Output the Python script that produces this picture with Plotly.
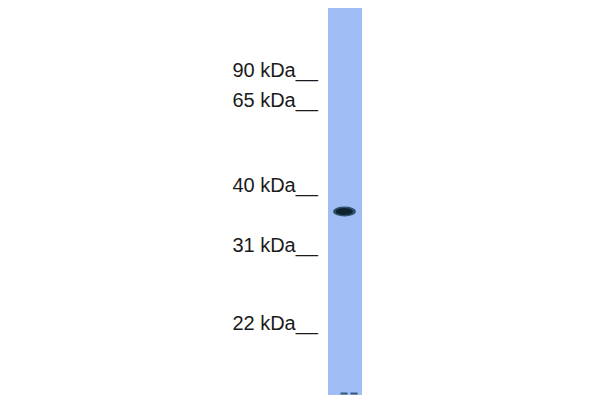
import plotly.graph_objects as go

# marker ladder (label, y position on the blot image)
ladder_labels = ["90 kDa", "65 kDa", "40 kDa", "31 kDa", "22 kDa"]
ladder_y = [72, 102, 187, 247, 325]

# lane geometry (pixel units of the blot)
lane_x = [344.5]
lane_top = [7]
lane_bottom = [395]
lane_width = 34

# detected band
band_x = [344.5]
band_y = [211.5]
band_w = [23]
band_h = [10]

# small specks at the lane foot
speck_x = [344, 354]
speck_y = [393.5, 393.5]

# page body adds an 8px offset, compensate in the axis ranges
OFF = 8

fig = go.Figure()

# lane
fig.add_trace(go.Bar(
    x=lane_x,
    y=[lane_bottom[0] - lane_top[0]],
    base=lane_top,
    width=lane_width,
    marker=dict(color="#a1bdf5", line=dict(width=0)),
    hoverinfo="skip",
    showlegend=False,
))

# ladder labels with tick underscores
fig.add_trace(go.Scatter(
    x=[318] * len(ladder_labels),
    y=ladder_y,
    mode="text",
    text=[lab + "__" for lab in ladder_labels],
    textposition="middle left",
    textfont=dict(family="Liberation Sans, Arial, sans-serif", size=20, color="#1a1a1a"),
    hoverinfo="skip",
    showlegend=False,
))

# band as ellipses (outer halo + dark core)
for bx, by, bw, bh in zip(band_x, band_y, band_w, band_h):
    fig.add_shape(type="circle", xref="x", yref="y",
                  x0=bx - bw / 2, x1=bx + bw / 2, y0=by - bh / 2, y1=by + bh / 2,
                  fillcolor="#24465e", line=dict(width=0), opacity=0.9)
    fig.add_shape(type="circle", xref="x", yref="y",
                  x0=bx - bw / 2 + 2.5, x1=bx + bw / 2 - 3, y0=by - bh / 2 + 1.5, y1=by + bh / 2 - 1.5,
                  fillcolor="#0f2230", line=dict(width=0))

fig.add_trace(go.Scatter(
    x=speck_x, y=speck_y, mode="markers",
    marker=dict(symbol="line-ew", size=5, line=dict(width=2, color="#3a5878")),
    hoverinfo="skip", showlegend=False,
))

fig.update_layout(
    width=600, height=400,
    margin=dict(l=0, r=0, t=0, b=0),
    paper_bgcolor="white", plot_bgcolor="white",
    bargap=0,
)
fig.update_xaxes(range=[OFF, 600 + OFF], visible=False, fixedrange=True)
fig.update_yaxes(range=[400 + OFF, OFF], visible=False, fixedrange=True)

fig.write_html("out.html")
